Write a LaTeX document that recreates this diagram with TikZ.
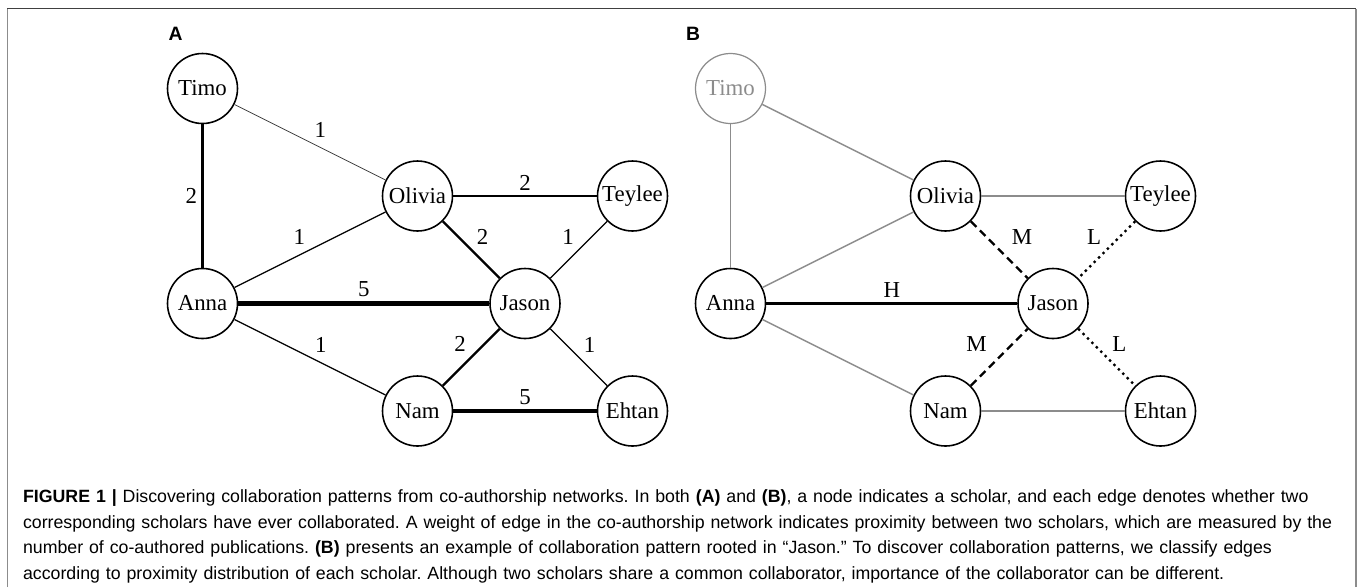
\documentclass[tikz,border=0pt]{standalone}
\usepackage{fontspec}
\setmainfont{Liberation Serif}
\setsansfont{Liberation Sans}
\usepackage{tikz}

\tikzset{
    scholar/.style={draw, circle, line width=0.9pt, minimum size=1.4cm,
        inner sep=0pt, font=\fontsize{13}{15}\selectfont},
    faded/.style={draw=black!45, text=black!45, line width=0.7pt},
    wt/.style={font=\fontsize{13}{15}\selectfont, inner sep=2.5pt},
    panel/.style={font=\sffamily\bfseries\fontsize{11}{13}\selectfont},
    w0/.style={line width=0.4pt, draw=black!75},
    w1/.style={line width=0.75pt},
    w2/.style={line width=1.35pt},
    w5/.style={line width=2.3pt},
    weak/.style={line width=0.85pt, draw=black!45},
    high/.style={line width=1.35pt},
    mid/.style={line width=1.35pt, dash pattern=on 4.5pt off 2.8pt},
    low/.style={line width=1.35pt, dash pattern=on 1.35pt off 2.2pt}
}

\begin{document}
\begin{tikzpicture}
    \useasboundingbox (0,0) rectangle (27.16,-11.74);

    % Frame
    \draw[black!45, line width=0.8pt] (0.15,-11.74) -- (0.15,-0.17);
    \draw[black!45, line width=0.8pt] (27.12,-11.74) -- (27.12,-0.17);
    \draw[black!75, line width=0.8pt] (0.15,-0.17) -- (27.12,-0.17);

    % Panel A: weighted co-authorship network
    \node[panel] (labelA) at (3.51,-0.67) {A};
    \node[scholar] (timo) at (4.05,-1.77) {Timo};
    \node[scholar] (olivia) at (8.35,-3.92) {Olivia};
    \node[scholar] (teylee) at (12.65,-3.92) {Teylee};
    \node[scholar] (anna) at (4.05,-6.07) {Anna};
    \node[scholar] (jason) at (10.5,-6.07) {Jason};
    \node[scholar] (nam) at (8.35,-8.22) {Nam};
    \node[scholar] (ehtan) at (12.65,-8.22) {Ehtan};

    \draw[w0] (timo) -- node[wt, above right] (wTO) {1} (olivia);
    \draw[w2] (timo) -- node[wt, left] (wTA) {2} (anna);
    \draw[w2] (olivia) -- node[wt, above] (wOT) {2} (teylee);
    \draw[w1] (anna) -- node[wt, above left] (wAO) {1} (olivia);
    \draw[w2] (olivia) -- node[wt, above right] (wOJ) {2} (jason);
    \draw[w1] (jason) -- node[wt, above left] (wJT) {1} (teylee);
    \draw[w5] (anna) -- node[wt, above] (wAJ) {5} (jason);
    \draw[w1] (anna) -- node[wt, above right] (wAN) {1} (nam);
    \draw[w2] (nam) -- node[wt, above left] (wNJ) {2} (jason);
    \draw[w1] (jason) -- node[wt, above right] (wJE) {1} (ehtan);
    \draw[w5] (nam) -- node[wt, above] (wNE) {5} (ehtan);

    % Panel B: collaboration pattern rooted in Jason
    \begin{scope}[xshift=10.56cm]
        \node[panel] (labelB) at (3.3,-0.67) {B};
        \node[scholar, faded] (timoB) at (4.05,-1.77) {Timo};
        \node[scholar] (oliviaB) at (8.35,-3.92) {Olivia};
        \node[scholar] (teyleeB) at (12.65,-3.92) {Teylee};
        \node[scholar] (annaB) at (4.05,-6.07) {Anna};
        \node[scholar] (jasonB) at (10.5,-6.07) {Jason};
        \node[scholar] (namB) at (8.35,-8.22) {Nam};
        \node[scholar] (ehtanB) at (12.65,-8.22) {Ehtan};

        \draw[weak] (timoB) -- (oliviaB);
        \draw[weak] (timoB) -- (annaB);
        \draw[weak] (annaB) -- (oliviaB);
        \draw[weak] (oliviaB) -- (teyleeB);
        \draw[weak] (annaB) -- (namB);
        \draw[weak] (namB) -- (ehtanB);

        \draw[high] (annaB) -- node[wt, above] (cAJ) {H} (jasonB);
        \draw[mid] (oliviaB) -- node[wt, above right, xshift=4pt] (cOJ) {M} (jasonB);
        \draw[mid] (namB) -- node[wt, above left, xshift=-4pt] (cNJ) {M} (jasonB);
        \draw[low] (teyleeB) -- node[wt, above left] (cTJ) {L} (jasonB);
        \draw[low] (jasonB) -- node[wt, above right] (cJE) {L} (ehtanB);
    \end{scope}

    % Caption
    \node[anchor=north west, align=left, inner sep=0pt, text width=26.6cm,
          font=\sffamily\fontsize{10.1}{14.7}\selectfont] (caption) at (0.454,-9.78)
    {\frenchspacing\textbf{FIGURE 1 |} Discovering collaboration patterns from co-authorship networks. In both \textbf{(A)} and \textbf{(B)}, a node indicates a scholar, and each edge denotes whether two\\
    corresponding scholars have ever collaborated. A weight of edge in the co-authorship network indicates proximity between two scholars, which are measured by the\\
    number of co-authored publications. \textbf{(B)} presents an example of collaboration pattern rooted in ``Jason.'' To discover collaboration patterns, we classify edges\\
    according to proximity distribution of each scholar. Although two scholars share a common collaborator, importance of the collaborator can be different.};
\end{tikzpicture}
\end{document}
